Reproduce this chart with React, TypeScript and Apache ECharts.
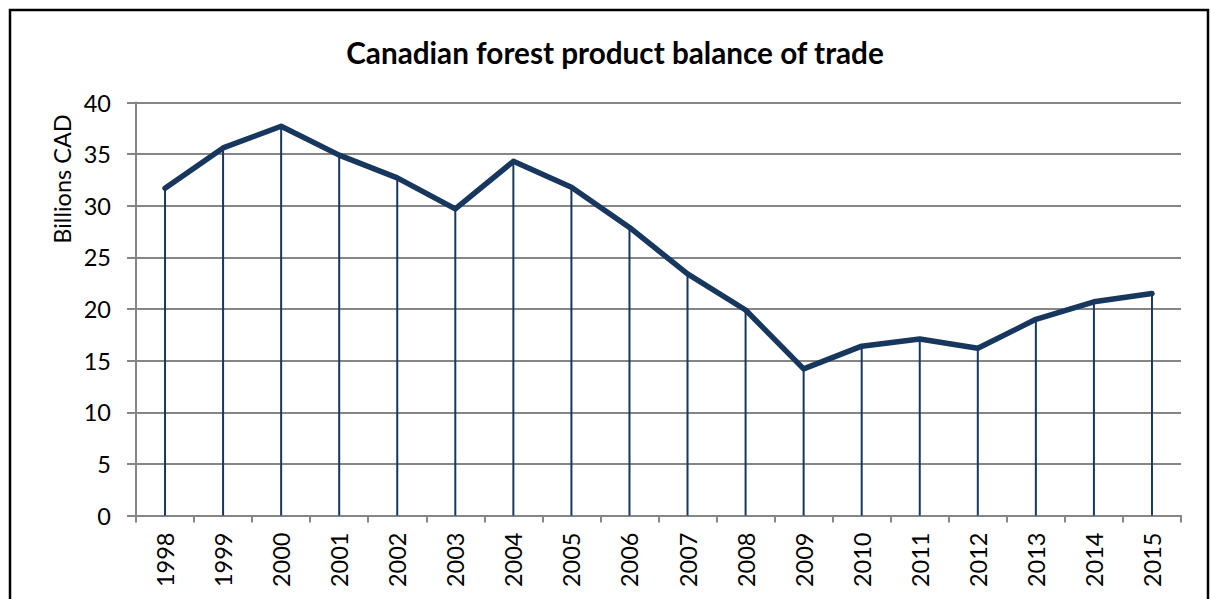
import React, { useEffect, useRef } from "react";
import * as echarts from "echarts";

const years = ["1998","1999","2000","2001","2002","2003","2004","2005","2006","2007","2008","2009","2010","2011","2012","2013","2014","2015"];
const balance = [31.7, 35.6, 37.7, 34.9, 32.7, 29.7, 34.3, 31.8, 27.9, 23.4, 19.9, 14.2, 16.4, 17.1, 16.2, 19.0, 20.7, 21.5];
const titleText = "Canadian forest product balance of trade";
const yAxisTitle = "Billions CAD";

const FONT = "Lato, 'Open Sans', sans-serif";
const NAVY = "#17375E";
const GRAY = "#868686";

export default function App() {
  const ref = useRef<HTMLDivElement>(null);
  useEffect(() => {
    document.body.style.margin = "0";
    const chart = echarts.init(ref.current!, null, { renderer: "svg" });
    chart.setOption({
      animation: false,
      backgroundColor: "#fff",
      textStyle: { fontFamily: FONT },
      title: {
        text: titleText,
        left: 610,
        top: 32,
        textAlign: "center",
        textStyle: { fontFamily: FONT, fontSize: 29.7, fontWeight: "bold", color: "#000" },
      },
      graphic: [
        {
          type: "rect",
          shape: { x: 10, y: 10, width: 1198, height: 640 },
          style: { fill: "none", stroke: "#000", lineWidth: 2.5 },
          silent: true,
        },
        {
          type: "text",
          x: 62,
          y: 179,
          rotation: Math.PI / 2,
          style: {
            text: yAxisTitle,
            fontFamily: FONT,
            fontSize: 23.5,
            fill: "#000",
            align: "center",
            verticalAlign: "middle",
          },
        },
      ],
      grid: { left: 136, right: 30, top: 102.5, bottom: 83.5, containLabel: false },
      xAxis: {
        type: "category",
        data: years,
        boundaryGap: true,
        axisLine: { show: true, lineStyle: { color: GRAY, width: 2 } },
        axisTick: { show: true, length: 7, alignWithLabel: false, lineStyle: { color: GRAY, width: 2 } },
        axisLabel: { rotate: 90, margin: 17, fontSize: 23.5, color: "#000", fontFamily: FONT, interval: 0 },
        splitLine: { show: false },
      },
      yAxis: {
        type: "value",
        min: 0,
        max: 40,
        interval: 5,
        axisLine: { show: true, lineStyle: { color: GRAY, width: 2 } },
        axisTick: { show: true, length: 9, lineStyle: { color: GRAY, width: 2 } },
        axisLabel: { margin: 25, fontSize: 23.5, color: "#000", fontFamily: FONT },
        splitLine: { show: true, lineStyle: { color: GRAY, width: 2 } },
      },
      series: [
        {
          type: "bar",
          data: balance,
          barWidth: 2,
          itemStyle: { color: NAVY },
          silent: true,
          z: 2,
        },
        {
          type: "line",
          data: balance,
          symbol: "none",
          lineStyle: { color: NAVY, width: 5.5, cap: "round", join: "round" },
          z: 3,
        },
      ],
    });
    return () => chart.dispose();
  }, []);
  return <div ref={ref} style={{ width: 1211, height: 599 }} />;
}
